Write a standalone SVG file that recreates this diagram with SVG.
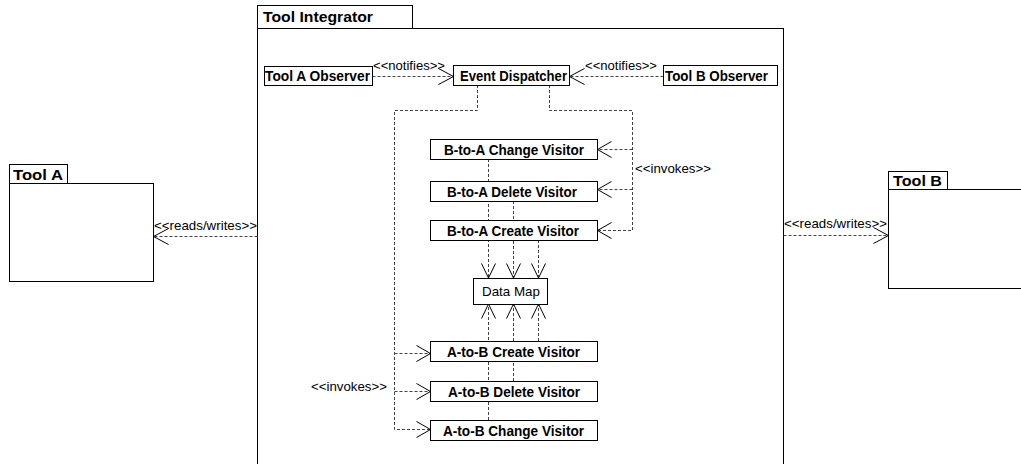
<svg xmlns="http://www.w3.org/2000/svg" width="1021" height="464" viewBox="0 0 1021 464">
<style>
.box{fill:#fff;stroke:#000;stroke-width:1}
.frame{fill:none;stroke:#000;stroke-width:1}
.b{font-family:"Liberation Sans",Arial,sans-serif;font-weight:bold;font-size:14.5px;fill:#000}
.t{font-family:"Liberation Sans",Arial,sans-serif;font-weight:bold;font-size:15.5px;fill:#000}
.n{font-family:"Liberation Sans",Arial,sans-serif;font-size:13.5px;fill:#000}
.d{fill:none;stroke:#444;stroke-width:1;stroke-dasharray:3,2}
.a{fill:none;stroke:#000;stroke-width:1}
</style>
<rect width="1021" height="464" fill="#fff"/>

<g id="tool-integrator">
<rect class="frame" x="257.5" y="28.5" width="526" height="450"/>
<rect class="box" x="257.5" y="5.5" width="155" height="23"/>
<text class="t" x="263" y="22" textLength="110" lengthAdjust="spacingAndGlyphs">Tool Integrator</text>
</g>

<g id="tool-a">
<rect class="box" x="9.5" y="183.5" width="144" height="98"/>
<rect class="box" x="9.5" y="164.5" width="58" height="19"/>
<text class="t" x="13" y="180" textLength="50" lengthAdjust="spacingAndGlyphs">Tool A</text>
</g>

<g id="tool-b">
<rect class="box" x="888.5" y="189.5" width="145" height="99"/>
<rect class="box" x="888.5" y="171.5" width="59" height="18"/>
<text class="t" x="893" y="186" textLength="49" lengthAdjust="spacingAndGlyphs">Tool B</text>
</g>

<g id="connectors">
<!-- reads/writes -->
<path class="d" d="M257.5,236.5 H153.5"/>
<path class="a" d="M168.5,228.5 L153.5,236.5 L168.5,244.5"/>
<text class="n" x="154" y="230" textLength="103" lengthAdjust="spacingAndGlyphs">&lt;&lt;reads/writes&gt;&gt;</text>
<path class="d" d="M783.5,235.5 H888.5"/>
<path class="a" d="M873.5,227.5 L888.5,235.5 L873.5,243.5"/>
<text class="n" x="784" y="228" textLength="103" lengthAdjust="spacingAndGlyphs">&lt;&lt;reads/writes&gt;&gt;</text>
<!-- notifies -->
<path class="d" d="M372.5,76.5 H453.5"/>
<path class="a" d="M438.5,68.5 L453.5,76.5 L438.5,84.5"/>
<text class="n" x="373" y="70" textLength="72" lengthAdjust="spacingAndGlyphs">&lt;&lt;notifies&gt;&gt;</text>
<path class="d" d="M663.5,76.5 H569.5"/>
<path class="a" d="M584.5,68.5 L569.5,76.5 L584.5,84.5"/>
<text class="n" x="585" y="70" textLength="72" lengthAdjust="spacingAndGlyphs">&lt;&lt;notifies&gt;&gt;</text>
<!-- invokes right -->
<path class="d" d="M549.5,85 V110.5 H632.5 V230.5 H597.5"/>
<path class="d" d="M632.5,149.5 H597.5"/>
<path class="d" d="M632.5,189.5 H597.5"/>
<path class="a" d="M611.5,141.5 L597.5,149.5 L611.5,157.5"/>
<path class="a" d="M611.5,181.5 L597.5,189.5 L611.5,197.5"/>
<path class="a" d="M611.5,222.5 L597.5,230.5 L611.5,238.5"/>
<text class="n" x="635" y="173" textLength="76" lengthAdjust="spacingAndGlyphs">&lt;&lt;invokes&gt;&gt;</text>
<!-- invokes left -->
<path class="d" d="M477.5,85 V110.5 H394.5 V429.5 H430.5"/>
<path class="d" d="M394.5,353.5 H430.5"/>
<path class="d" d="M394.5,391.5 H430.5"/>
<path class="a" d="M416.5,345.5 L430.5,353.5 L416.5,361.5"/>
<path class="a" d="M416.5,383.5 L430.5,391.5 L416.5,399.5"/>
<path class="a" d="M416.5,421.5 L430.5,429.5 L416.5,437.5"/>
<text class="n" x="311" y="391" textLength="76" lengthAdjust="spacingAndGlyphs">&lt;&lt;invokes&gt;&gt;</text>
<!-- visitors to data map -->
<path class="d" d="M488.5,159 V278"/>
<path class="d" d="M513.5,201 V278"/>
<path class="d" d="M538.5,240 V278"/>
<path class="a" d="M481.5,263.5 L488.5,278 L495.5,263.5"/>
<path class="a" d="M506.5,263.5 L513.5,278 L520.5,263.5"/>
<path class="a" d="M531.5,263.5 L538.5,278 L545.5,263.5"/>
<path class="d" d="M488.5,420 V304"/>
<path class="d" d="M513.5,381 V304"/>
<path class="d" d="M538.5,341 V304"/>
<path class="a" d="M481.5,318.5 L488.5,304 L495.5,318.5"/>
<path class="a" d="M506.5,318.5 L513.5,304 L520.5,318.5"/>
<path class="a" d="M531.5,318.5 L538.5,304 L545.5,318.5"/>
</g>

<g id="tool-a-observer">
<rect class="box" x="264.5" y="66.5" width="108" height="19"/>
<text class="b" x="265" y="81" textLength="105" lengthAdjust="spacingAndGlyphs">Tool A Observer</text>
</g>
<g id="event-dispatcher">
<rect class="box" x="453.5" y="65.5" width="116" height="20"/>
<text class="b" x="460" y="81" textLength="107" lengthAdjust="spacingAndGlyphs">Event Dispatcher</text>
</g>
<g id="tool-b-observer">
<rect class="box" x="663.5" y="65.5" width="114" height="20"/>
<text class="b" x="665" y="81" textLength="103" lengthAdjust="spacingAndGlyphs">Tool B Observer</text>
</g>

<g id="b-to-a-change-visitor">
<rect class="box" x="430.5" y="139.5" width="167" height="20"/>
<text class="b" x="444" y="155" textLength="140" lengthAdjust="spacingAndGlyphs">B-to-A Change Visitor</text>
</g>
<g id="b-to-a-delete-visitor">
<rect class="box" x="430.5" y="181.5" width="167" height="20"/>
<text class="b" x="447" y="197" textLength="130" lengthAdjust="spacingAndGlyphs">B-to-A Delete Visitor</text>
</g>
<g id="b-to-a-create-visitor">
<rect class="box" x="430.5" y="220.5" width="167" height="20"/>
<text class="b" x="447" y="236" textLength="132" lengthAdjust="spacingAndGlyphs">B-to-A Create Visitor</text>
</g>

<g id="data-map">
<rect class="box" x="473.5" y="278.5" width="74" height="26"/>
<text class="n" x="482" y="296" textLength="58" lengthAdjust="spacingAndGlyphs">Data Map</text>
</g>

<g id="a-to-b-create-visitor">
<rect class="box" x="430.5" y="341.5" width="167" height="20"/>
<text class="b" x="447" y="357" textLength="133" lengthAdjust="spacingAndGlyphs">A-to-B Create Visitor</text>
</g>
<g id="a-to-b-delete-visitor">
<rect class="box" x="430.5" y="381.5" width="167" height="20"/>
<text class="b" x="448" y="397" textLength="132" lengthAdjust="spacingAndGlyphs">A-to-B Delete Visitor</text>
</g>
<g id="a-to-b-change-visitor">
<rect class="box" x="430.5" y="420.5" width="167" height="20"/>
<text class="b" x="443" y="436" textLength="141" lengthAdjust="spacingAndGlyphs">A-to-B Change Visitor</text>
</g>
</svg>
